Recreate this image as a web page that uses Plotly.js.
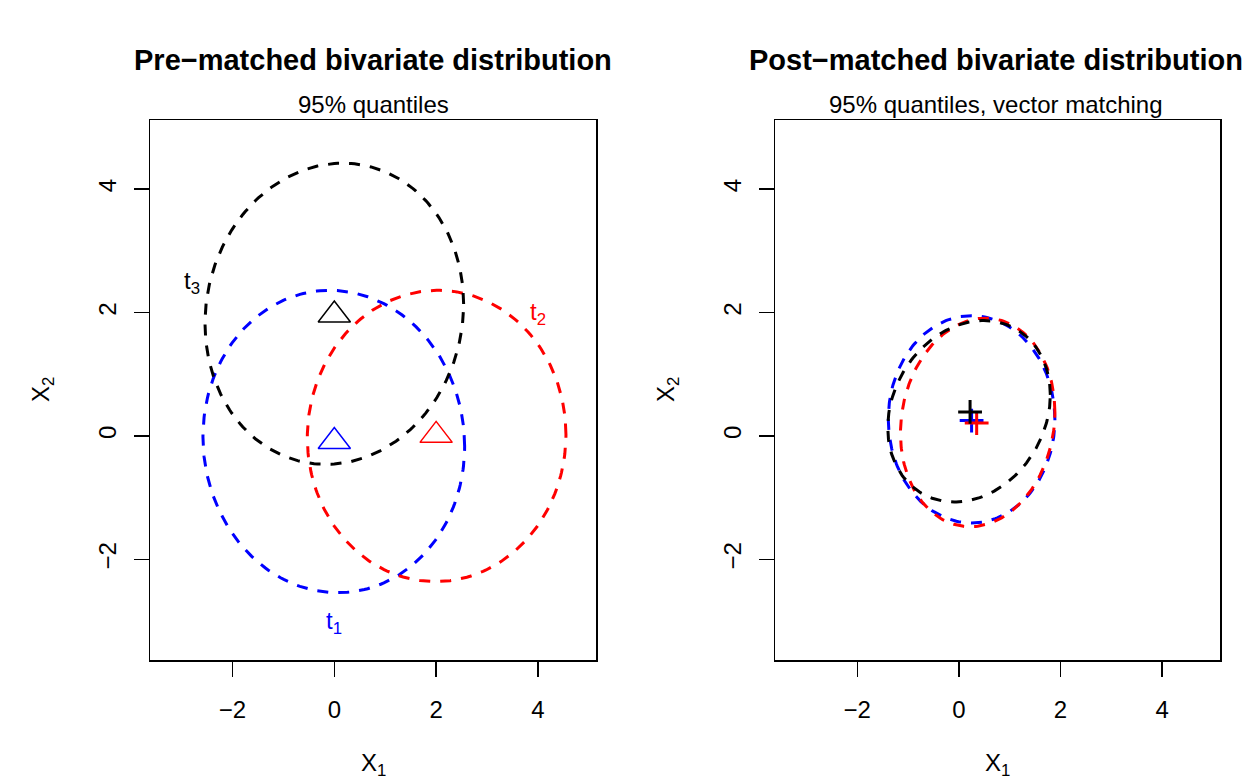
<!DOCTYPE html>
<html>
<head>
<meta charset="utf-8">
<script src="https://cdn.plot.ly/plotly-3.0.1.min.js"></script>
<style>html,body{margin:0;padding:0;background:#fff}</style>
</head>
<body>
<div id="chart" style="width:1250px;height:782px"></div>
<script>
// Treatment groups and their colours
const groups = ['t1', 't2', 't3'];
const colors = ['#0000FF', '#FF0000', '#000000'];

// Pre-matched 95% quantile ellipses: centre, half-extent in X1 / X2, correlation
const preCx  = [-0.01, 2.01, 0.00];
const preCy  = [-0.09, 0.00, 1.98];
const preSx  = [2.57, 2.54, 2.54];
const preSy  = [2.45, 2.36, 2.44];
const preRho = [-0.03, 0.01, 0.065];

// Pre-matched group means (triangles)
const preMeanX = [0.00, 2.00, 0.00];
const preMeanY = [-0.09, 0.01, 1.96];

// Post-matched 95% quantile ellipses
const postCx  = [0.25, 0.37, 0.20];
const postCy  = [0.27, 0.22, 0.40];
const postSx  = [1.64, 1.52, 1.60];
const postSy  = [1.68, 1.69, 1.47];
const postRho = [0.00, 0.10, 0.18];

// Post-matched group means (crosses)
const postMeanX = [0.25, 0.35, 0.22];
const postMeanY = [0.25, 0.21, 0.39];

// Group label anchors on the left panel
const labelX = [0.00, 4.00, -2.80];
const labelY = [-3.03, 1.99, 2.48];

const tickVals = [-2, 0, 2, 4];

// Outline of a bivariate-normal quantile ellipse
function ellipse(cx, cy, sx, sy, rho, n) {
  const xs = [], ys = [];
  const s = Math.sqrt(1 - rho * rho);
  for (let i = 0; i <= n; i++) {
    const t = 2 * Math.PI * i / n;
    xs.push(cx + sx * Math.cos(t));
    ys.push(cy + sy * (rho * Math.cos(t) + s * Math.sin(t)));
  }
  return {xs, ys};
}

const FONT = 'Liberation Sans, Arial, Helvetica, sans-serif';
const DASH = '11px,10px';
const traces = [];

groups.forEach((g, i) => {
  const e = ellipse(preCx[i], preCy[i], preSx[i], preSy[i], preRho[i], 240);
  traces.push({
    x: e.xs, y: e.ys, xaxis: 'x', yaxis: 'y', type: 'scatter', mode: 'lines',
    line: {color: colors[i], width: 3, dash: DASH}, hoverinfo: 'skip'
  });
});
traces.push({
  x: preMeanX, y: preMeanY, xaxis: 'x', yaxis: 'y', type: 'scatter', mode: 'markers',
  marker: {symbol: 'triangle-up-open', size: 28, color: colors,
           line: {color: colors, width: 1.5}}
});

groups.forEach((g, i) => {
  const e = ellipse(postCx[i], postCy[i], postSx[i], postSy[i], postRho[i], 240);
  traces.push({
    x: e.xs, y: e.ys, xaxis: 'x2', yaxis: 'y2', type: 'scatter', mode: 'lines',
    line: {color: colors[i], width: 3, dash: DASH}, hoverinfo: 'skip'
  });
});
groups.forEach((g, i) => {
  traces.push({
    x: [postMeanX[i]], y: [postMeanY[i]], xaxis: 'x2', yaxis: 'y2', type: 'scatter', mode: 'markers',
    marker: {symbol: 'cross-thin-open', size: 17, color: colors[i],
             line: {color: colors[i], width: 3}}
  });
});

function axis(domain, anchor, isY) {
  return {
    domain: domain, anchor: anchor,
    range: isY ? [-3.63, 5.12] : [-3.62, 5.14],
    tickmode: 'array', tickvals: tickVals,
    ticks: 'outside', ticklen: 15, tickwidth: 1.5, tickcolor: '#000',
    showline: true, mirror: true, linecolor: '#000', linewidth: 1.5,
    showgrid: false, zeroline: false,
    tickfont: {family: FONT, size: 24, color: '#000'},
    tickangle: isY ? -90 : 0,
    ticklabelstandoff: isY ? 8 : 13,
    fixedrange: true
  };
}

const yDom = [1 - 660 / 782, 1 - 120 / 782];
const leftC = 373 / 1250, rightC = 996 / 1250;

const annotations = [
  {text: '<b>Pre−matched bivariate distribution</b>', x: leftC, y: 1 - 60 / 782},
  {text: '<b>Post−matched bivariate distribution</b>', x: rightC, y: 1 - 60 / 782},
].map(a => Object.assign(a, {xref: 'paper', yref: 'paper', showarrow: false,
  xanchor: 'center', yanchor: 'middle', font: {family: FONT, size: 29, color: '#000'}}));

[
  {text: '95% quantiles', x: leftC},
  {text: '95% quantiles, vector matching', x: rightC}
].forEach(a => annotations.push(Object.assign(a, {xref: 'paper', yref: 'paper', y: 1 - 104 / 782,
  showarrow: false, xanchor: 'center', yanchor: 'middle', font: {family: FONT, size: 24, color: '#000'}})));

[leftC, 997.5 / 1250].forEach(cx => annotations.push({
  text: 'X<sub>1</sub>', xref: 'paper', yref: 'paper', x: cx, y: 1 - 764 / 782,
  showarrow: false, xanchor: 'center', yanchor: 'middle', font: {family: FONT, size: 24, color: '#000'}
}));
[42 / 1250, 667 / 1250].forEach(xp => annotations.push({
  text: 'X<sub>2</sub>', xref: 'paper', yref: 'paper', x: xp, y: 1 - 390 / 782, textangle: -90,
  showarrow: false, xanchor: 'center', yanchor: 'middle', font: {family: FONT, size: 24, color: '#000'}
}));

groups.forEach((g, i) => annotations.push({
  text: 't<sub>' + (i + 1) + '</sub>', xref: 'x', yref: 'y', x: labelX[i], y: labelY[i],
  showarrow: false, xanchor: 'center', yanchor: 'middle', font: {family: FONT, size: 24, color: colors[i]}
}));

const layout = {
  width: 1250, height: 782,
  margin: {l: 0, r: 0, t: 0, b: 0},
  paper_bgcolor: '#fff', plot_bgcolor: '#fff',
  showlegend: false,
  xaxis: axis([150 / 1250, 596 / 1250], 'y', false),
  yaxis: axis(yDom, 'x', true),
  xaxis2: axis([775 / 1250, 1220 / 1250], 'y2', false),
  yaxis2: axis(yDom, 'x2', true),
  annotations: annotations
};

Plotly.newPlot('chart', traces, layout, {displayModeBar: false, staticPlot: true});
</script>
</body>
</html>
